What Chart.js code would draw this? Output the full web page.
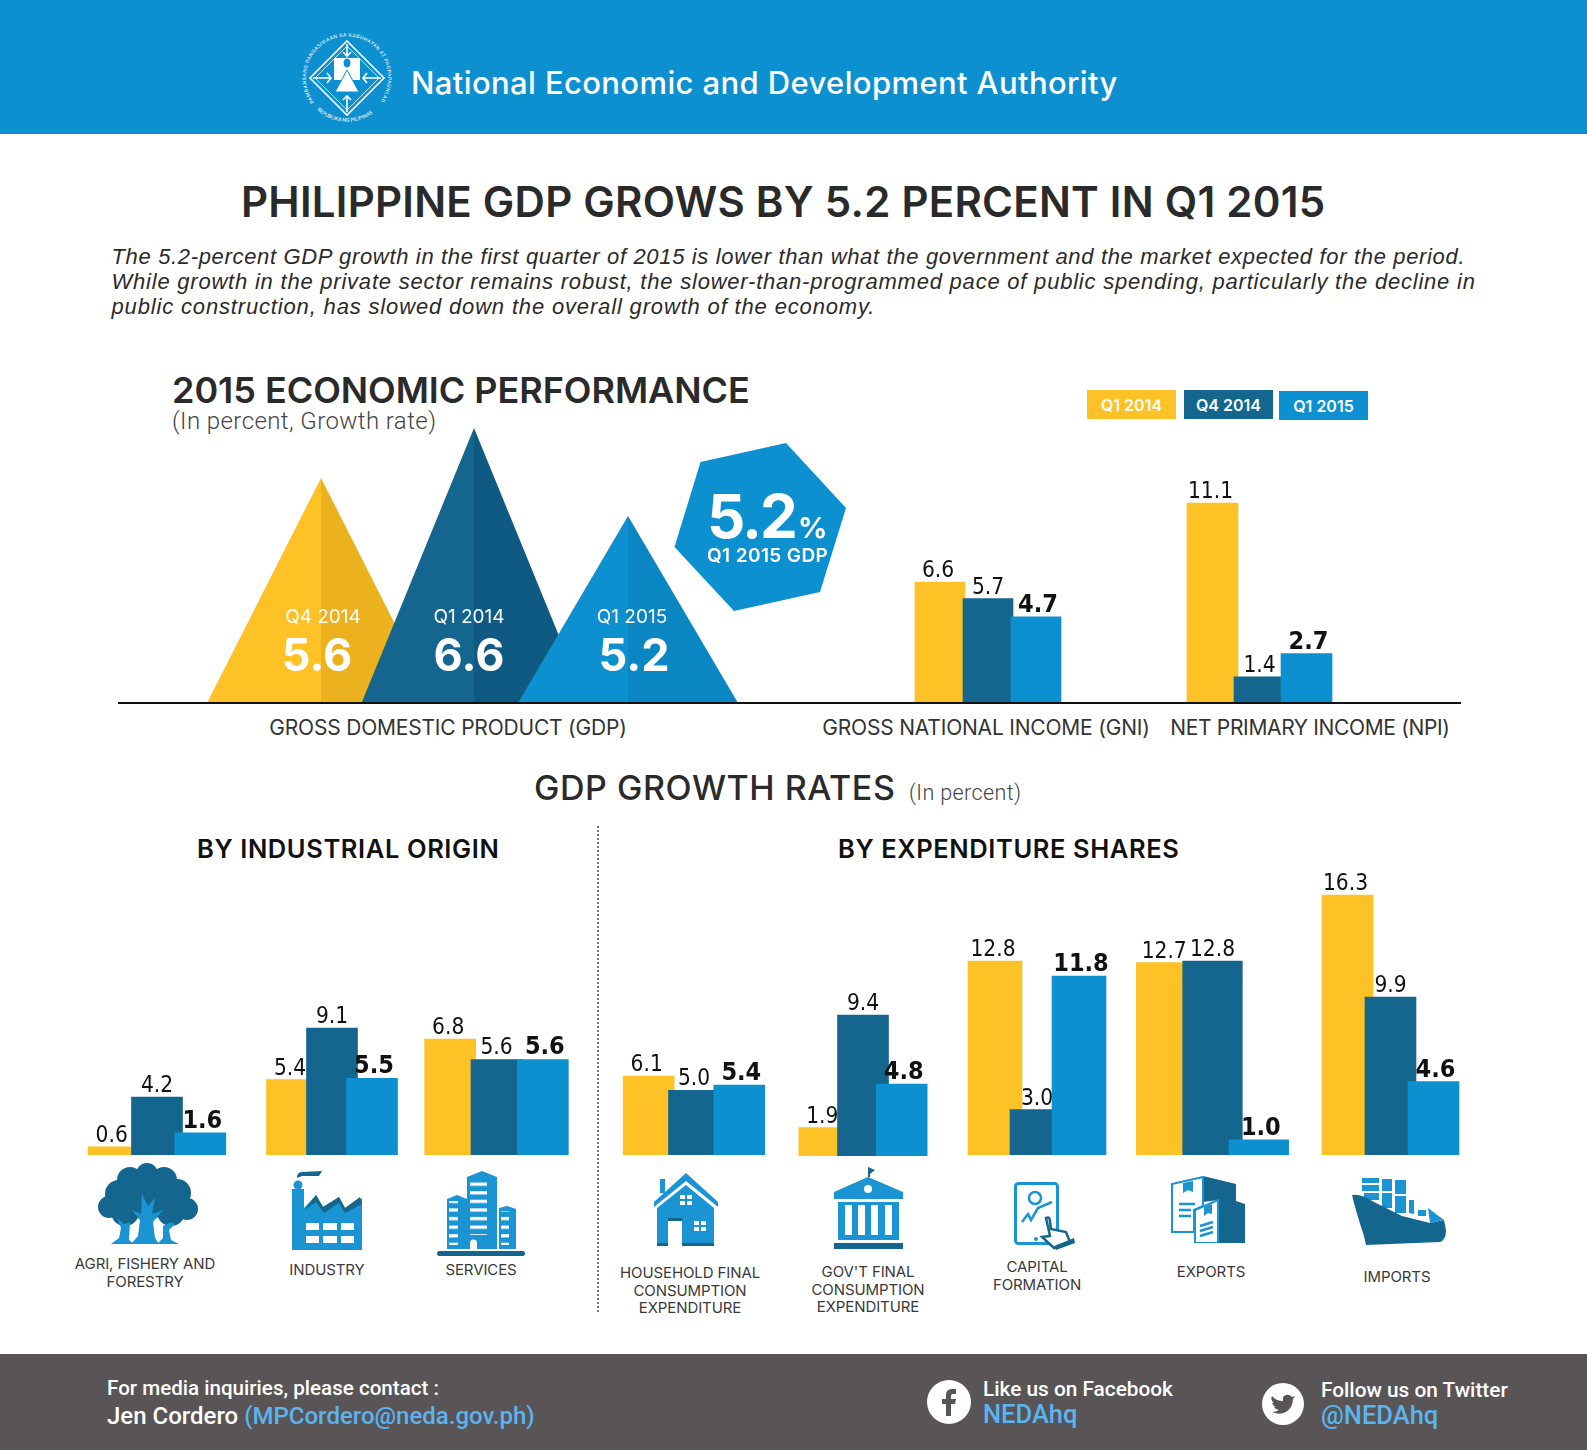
<!DOCTYPE html>
<html>
<head>
<meta charset="utf-8">
<title>Philippine GDP Q1 2015</title>
<script src="https://cdn.jsdelivr.net/npm/chart.js@4"></script>
<style>
  html, body { margin: 0; padding: 0; background: #fff; }
  #page { position: relative; width: 1587px; height: 1450px; overflow: hidden; font-family: Inter, sans-serif; color: #2b2a2b; }
  #page > div, #page > svg, #page > canvas { position: absolute; }
  .t { white-space: nowrap; transform: translateY(-50%); line-height: 1; }
  .c { transform: translate(-50%, -50%); text-align: center; }
  .cap { font-size: 15px; letter-spacing: -0.1px; color: #3a393a; margin-top: -1px; }
  .axis { font-size: 21px; color: #333; letter-spacing: -0.2px; }
  .key { color: #fff; font-size: 16px; font-weight: 600; display: flex; align-items: center; justify-content: center; width: 89px; height: 29px; }
  .foot { font-family: Roboto, sans-serif; color: #fff; font-weight: 500; }
  .sky { color: #5ab4f0; }
  .intro { font: italic 22px 'Liberation Sans'; }
</style>
</head>
<body>
<div id="page">
  <div style="left:0;top:0;width:1587px;height:134px;background:#0d90cf"></div>

  <svg style="left:300px;top:30px" width="94" height="96" viewBox="-47 -48 94 96">
    <defs>
      <path id="ringTop" d="M -33 24 A 41 41 0 1 1 33 24"/>
      <path id="ringBot" d="M -30 32 A 44 44 0 0 0 30 32"/>
    </defs>
    <text font-size="5" fill="#fff" font-family="Roboto" letter-spacing="0.5"><textPath href="#ringTop">PAMBANSANG PANGASIWAAN SA KABUHAYAN AT PAGPAPAUNLAD</textPath></text>
    <text font-size="5.2" fill="#fff" font-family="Roboto"><textPath href="#ringBot">REPUBLIKA NG PILIPINAS</textPath></text>
    <path d="M0 -37 L37 0 L0 37 L-37 0 Z" fill="none" stroke="#fff" stroke-width="1.6"/>
    <path d="M0 -32 L32 0 L0 32 L-32 0 Z" fill="none" stroke="#fff" stroke-width="0.8"/>
    <rect x="-13" y="-20" width="26" height="22" fill="#fff"/>
    <ellipse cx="0" cy="-15" rx="4" ry="5" fill="#0d90cf" stroke="#fff"/>
    <path d="M0 -8 L12 14 L-12 14 Z" fill="#fff" stroke="#0d90cf" stroke-width="1"/>
    <path d="M0 -34 V-22 M-4 -26 L0 -22 L4 -26 M0 34 V18 M-4 22 L0 18 L4 22 M-34 0 H-16 M-20 -5 L-16 0 L-20 5 M34 0 H16 M20 -5 L16 0 L20 5" stroke="#fff" stroke-width="1.6" fill="none"/>
  </svg>
  <div class="t" style="left:411px;top:82px;font-size:31px;font-weight:500;color:#fff;letter-spacing:0.38px">National Economic and Development Authority</div>

  <div class="t" style="left:241px;top:202px;font-size:42px;font-weight:600;letter-spacing:0.25px">PHILIPPINE GDP GROWS BY 5.2 PERCENT IN Q1 2015</div>
  <div class="t intro" style="left:111.5px;top:257px;letter-spacing:0.66px">The 5.2-percent GDP growth in the first quarter of 2015 is lower than what the government and the market expected for the period.</div>
  <div class="t intro" style="left:111.5px;top:282px;letter-spacing:0.78px">While growth in the private sector remains robust, the slower-than-programmed pace of public spending, particularly the decline in</div>
  <div class="t intro" style="left:111.5px;top:307px;letter-spacing:0.84px">public construction, has slowed down the overall growth of the economy.</div>

  <div class="t" style="left:172px;top:390px;font-size:36px;font-weight:600;letter-spacing:-0.04px">2015 ECONOMIC PERFORMANCE</div>
  <div class="t" style="left:172px;top:421px;font:300 24px Roboto;color:#444;letter-spacing:0.42px">(In percent, Growth rate)</div>

  <div class="key" style="left:1087px;top:390px;background:#fec126">Q1 2014</div>
  <div class="key" style="left:1184px;top:390px;background:#14668f">Q4 2014</div>
  <div class="key" style="left:1279px;top:391px;background:#0d90cf">Q1 2015</div>

  <div style="left:118px;top:702px;width:1343px;height:2px;background:#111;z-index:3"></div>

  <svg style="left:670px;top:440px;z-index:2" width="180" height="175">
    <polygon points="116,3 176,68 150,152 64,171 4.5,107 30.5,22" fill="#0d90cf"/>
  </svg>
  <div class="t" style="left:707px;top:516px;font-size:60px;font-weight:700;color:#fff;z-index:3;letter-spacing:-2px">5.2</div>
  <div class="t" style="left:798px;top:527px;font-size:29px;font-weight:700;color:#fff;z-index:3">%</div>
  <div class="t" style="left:707px;top:555px;font-size:19px;font-weight:600;color:#fff;z-index:3;letter-spacing:0.4px">Q1 2015 GDP</div>

  <div class="t axis c" style="left:448px;top:727px">GROSS DOMESTIC PRODUCT (GDP)</div>
  <div class="t axis c" style="left:986px;top:727px">GROSS NATIONAL INCOME (GNI)</div>
  <div class="t axis c" style="left:1310px;top:727px;letter-spacing:-0.35px">NET PRIMARY INCOME (NPI)</div>

  <div class="t" style="left:534px;top:788px;font-size:34px;font-weight:500;letter-spacing:0.55px">GDP GROWTH RATES</div>
  <div class="t" style="left:909px;top:792px;font:300 21.5px Roboto;color:#444;letter-spacing:0.4px">(In percent)</div>
  <div class="t" style="left:197px;top:849px;font-size:25.5px;font-weight:600;color:#111;letter-spacing:0.6px">BY INDUSTRIAL ORIGIN</div>
  <div class="t" style="left:838px;top:849px;font-size:25.5px;font-weight:600;color:#111;letter-spacing:0.6px">BY EXPENDITURE SHARES</div>
  <div style="left:597px;top:826px;height:486px;border-left:2px dotted #777"></div>

  <!-- tree -->
  <svg style="left:97px;top:1162px" width="102" height="82" viewBox="0 0 102 82">
    <g fill="#14668f">
      <circle cx="50" cy="12" r="11"/><circle cx="33" cy="18" r="13"/><circle cx="67" cy="18" r="13"/>
      <circle cx="22" cy="32" r="14"/><circle cx="80" cy="31" r="14"/><circle cx="12" cy="45" r="11"/>
      <circle cx="90" cy="47" r="11"/><circle cx="50" cy="34" r="24"/><circle cx="28" cy="50" r="14"/><circle cx="74" cy="50" r="14"/>
    </g>
    <g fill="#1a94d2">
      <path d="M45 32 L51 44 L58 36 L55 52 L66 48 L56 60 L58 76 L62 82 L34 82 L41 74 L43 58 L35 48 L44 52 Z"/>
      <path d="M20 56 L27 62 L33 60 L32 78 L37 82 L14 82 L22 76 L24 66 Z"/>
      <path d="M74 60 L78 62 L72 68 L74 78 L82 82 L60 82 L66 76 L66 64 Z"/>
    </g>
  </svg>
  <!-- factory -->
  <svg style="left:292px;top:1171px" width="70" height="79" viewBox="0 0 70 79">
    <path d="M5 7 Q5 1 10 1 L30 0 L27 5 L10 5 Z" fill="#14668f"/>
    <circle cx="6" cy="14" r="4.5" fill="#1a94d2"/>
    <path d="M0 18 H12 V37 L24 24 L31 36 L47 26 L53 37 L70 27 V79 H0 Z" fill="#1a94d2"/>
    <path d="M13 39 L24 24 L31 36 L47 26 L53 37 L68 26 L70 33 L53 42 L47 32 L32 42 L24 31 Z" fill="#14668f"/>
    <g fill="#fff"><rect x="14" y="52" width="13" height="7"/><rect x="31" y="52" width="14" height="7"/><rect x="49" y="52" width="13" height="7"/><rect x="14" y="65" width="13" height="7"/><rect x="31" y="65" width="14" height="7"/><rect x="49" y="65" width="13" height="7"/></g>
  </svg>
  <!-- buildings -->
  <svg style="left:437px;top:1171px" width="88" height="85" viewBox="0 0 88 85">
    <defs><pattern id="stripes" width="20" height="8.6" patternUnits="userSpaceOnUse"><rect y="3" width="20" height="3.2" fill="#fff"/></pattern></defs>
    <path d="M30 6 L45 0 L60 6 V78 H30 Z M10 28 L20 24 L30 28 V78 H10 Z M62 37 L70 35 L79 38 V78 H62 Z" fill="#1a94d2"/>
    <path d="M33 8 H50 V64 H33 Z M12 30 H21 V74 H12 Z M64 40 H72 V74 H64 Z" fill="url(#stripes)"/>
    <path d="M33 79 V72 A3.500 3.500 0 0 1 40 72 V79 Z" fill="#fff"/>
    <rect x="0" y="80" width="88" height="5" rx="2.500" fill="#14668f"/>
  </svg>
  <!-- house -->
  <svg style="left:654px;top:1173px" width="64" height="73" viewBox="0 0 64 73">
    <path d="M6 6 H11 V20 H6 Z" fill="#1a94d2"/>
    <path d="M32 0 L64 29 V34 L32 8 L0 34 V29 Z" fill="#1a94d2"/>
    <path d="M32 12 L60 35 V73 H28 V45 H14 V73 H3 V35 Z" fill="#1a94d2"/>
    <path d="M28 70 H60 V73 H28 Z M3 70 H14 V73 H3 Z M14 45 H28 V48 H14 Z" fill="#14668f"/>
    <g fill="#fff"><rect x="26" y="22" width="5" height="4"/><rect x="33" y="22" width="5" height="4"/><rect x="26" y="28" width="5" height="4"/><rect x="33" y="28" width="5" height="4"/><rect x="40" y="48" width="5" height="4"/><rect x="47" y="48" width="5" height="4"/><rect x="40" y="54" width="5" height="4"/><rect x="47" y="54" width="5" height="4"/></g>
  </svg>
  <!-- government building -->
  <svg style="left:834px;top:1167px" width="69" height="82" viewBox="0 0 69 82">
    <path d="M34 10 V0 L41 3 L36 7 V10 Z" fill="#14668f"/>
    <path d="M34 10 L69 25 V32 H0 V25 Z" fill="#1a94d2"/>
    <circle cx="34" cy="22" r="4" fill="#fff"/>
    <rect x="4" y="35" width="61" height="38" fill="#1a94d2"/>
    <g fill="#fff"><rect x="11" y="38" width="7" height="30"/><rect x="24" y="38" width="7" height="30"/><rect x="37" y="38" width="7" height="30"/><rect x="51" y="38" width="7" height="30"/></g>
    <rect x="0" y="76" width="69" height="6" fill="#14668f"/>
  </svg>
  <!-- tablet -->
  <svg style="left:1014px;top:1182px" width="61" height="68" viewBox="0 0 61 68">
    <rect x="1.500" y="1.500" width="42" height="60" rx="3" fill="#fff" stroke="#1a94d2" stroke-width="3"/>
    <circle cx="21" cy="16" r="6" fill="none" stroke="#1a94d2" stroke-width="2.500"/>
    <path d="M8 40 L14 32 L17 38 L24 26 L38 20" fill="none" stroke="#1a94d2" stroke-width="2.500"/>
    <circle cx="22" cy="57" r="2" fill="#1a94d2"/>
    <path d="M32 36 Q36 34 36 40 L37 47 L52 50 L56 60 L40 66 L28 55 L36 54 Z" fill="#fff" stroke="#14668f" stroke-width="2.500"/>
    <path d="M40 64 L60 56 L61 61 L42 68 Z" fill="#14668f"/>
  </svg>
  <!-- boxes -->
  <svg style="left:1171px;top:1176px" width="74" height="67" viewBox="0 0 74 67">
    <path d="M32 0 L65 8 V25 L74 28 V67 H47 V24 L32 26 Z" fill="#14668f"/>
    <path d="M1 8 L32 1 V30 L23 34 V56 H1 Z" fill="#fff" stroke="#1a94d2" stroke-width="2"/>
    <path d="M24 34 L47 24 V67 H24 Z" fill="#fff" stroke="#1a94d2" stroke-width="2"/>
    <path d="M12 7 V17 L17 14 L22 16 V5 Z M33 31 V40 L37 37 L41 38 V28 Z" fill="#1a94d2"/>
    <path d="M8 28 H24 M8 34 H20 M8 40 H20 M29 50 L42 46 M29 55 L42 51 M29 60 L42 56" stroke="#1a94d2" stroke-width="2.500"/>
  </svg>
  <!-- ship -->
  <svg style="left:1352px;top:1178px" width="94" height="67" viewBox="0 0 94 67">
    <g fill="#1a94d2"><path d="M10 0 H27 V5 H10 Z M10 7 H27 V13 H10 Z M30 1 H40 V13 H30 Z M43 2 H54 V16 H43 Z M12 15 H27 V22 H12 Z M30 15 H40 V30 H30 Z M43 18 H54 V35 H43 Z"/><path d="M57 22 H62 V36 L57 35 Z M66 32 H74 V38 H66 Z"/></g>
    <path d="M0 17 Q8 15 22 24 L50 38 L78 45 L92 42 L94 52 Q94 62 88 64 L14 67 L12 58 Q4 34 0 17 Z" fill="#14668f"/>
    <path d="M76 30 L92 42 L78 45 Z" fill="#1a94d2"/>
  </svg>

  <div class="t cap c" style="left:145px;top:1264px">AGRI, FISHERY AND</div>
  <div class="t cap c" style="left:145px;top:1282px">FORESTRY</div>
  <div class="t cap c" style="left:327px;top:1270px">INDUSTRY</div>
  <div class="t cap c" style="left:481px;top:1270px">SERVICES</div>
  <div class="t cap c" style="left:690px;top:1273px">HOUSEHOLD FINAL</div>
  <div class="t cap c" style="left:690px;top:1291px">CONSUMPTION</div>
  <div class="t cap c" style="left:690px;top:1308px">EXPENDITURE</div>
  <div class="t cap c" style="left:868px;top:1272px">GOV'T FINAL</div>
  <div class="t cap c" style="left:868px;top:1290px">CONSUMPTION</div>
  <div class="t cap c" style="left:868px;top:1307px">EXPENDITURE</div>
  <div class="t cap c" style="left:1037px;top:1267px">CAPITAL</div>
  <div class="t cap c" style="left:1037px;top:1285px">FORMATION</div>
  <div class="t cap c" style="left:1211px;top:1272px">EXPORTS</div>
  <div class="t cap c" style="left:1397px;top:1277px">IMPORTS</div>

  <div style="left:0;top:1354px;width:1587px;height:96px;background:#595556"></div>
  <div class="t foot" style="left:107px;top:1388px;font-size:20.6px">For media inquiries, please contact :</div>
  <div class="t foot" style="left:107px;top:1416px;font-size:24px">Jen Cordero <span class="sky">(MPCordero@neda.gov.ph)</span></div>
  <svg style="left:927px;top:1380px" width="44" height="44" viewBox="0 0 44 44">
    <circle cx="22" cy="22" r="22" fill="#fff"/>
    <path d="M19 36 V24 H15 V19 H19 V15 Q19 9 25 9 H29 V14 H26 Q24 14 24 16 V19 H29 L28 24 H24 V36 Z" fill="#595556"/>
  </svg>
  <div class="t foot" style="left:983px;top:1389px;font-size:20.8px">Like us on Facebook</div>
  <div class="t foot sky" style="left:983px;top:1415px;font-size:25.5px">NEDAhq</div>
  <svg style="left:1262px;top:1383px" width="42" height="42" viewBox="0 0 42 42">
    <circle cx="21" cy="21" r="21" fill="#fff"/>
    <path d="M33 13 L30 14 Q27 11 24 12 Q20 13 21 18 Q14 18 10 13 Q8 17 12 20 L10 20 Q11 23 14 24 L12 24 Q14 27 17 27 Q14 29 10 29 Q22 34 29 24 Q31 20 31 16 Z" fill="#595556"/>
  </svg>
  <div class="t foot" style="left:1321px;top:1390px;font-size:20.8px">Follow us on Twitter</div>
  <div class="t foot sky" style="left:1321px;top:1416px;font-size:25.5px">@NEDAhq</div>
</div>

<script>
// values, as printed in the picture
const periods = ['Q1 2014', 'Q4 2014', 'Q1 2015'];
const gdpPeriods = ['Q4 2014', 'Q1 2014', 'Q1 2015'];
const gdp = [5.6, 6.6, 5.2];
const gni = [6.6, 5.7, 4.7];
const npi = [11.1, 1.4, 2.7];
const agri = [0.6, 4.2, 1.6];
const industry = [5.4, 9.1, 5.5];
const services = [6.8, 5.6, 5.6];
const household = [6.1, 5.0, 5.4];
const govt = [1.9, 9.4, 4.8];
const capital = [12.8, 3.0, 11.8];
const exportsGrowth = [12.7, 12.8, 1.0];
const imports = [16.3, 9.9, 4.6];

const yellow = '#fec126', navy = '#14668f', blue = '#0d90cf';
const barColors = [yellow, navy, blue];
const page = document.getElementById('page');

// bar labels, last one in the group is the bold one
const valueLabels = {
  id: 'valueLabels',
  afterDatasetsDraw(chart) {
    const { ctx } = chart;
    const values = chart.data.datasets[0].data;
    const nudge = [-2, 0, 2];
    ctx.save();
    ctx.fillStyle = '#111';
    ctx.textAlign = 'center';
    ctx.textBaseline = 'alphabetic';
    chart.getDatasetMeta(0).data.forEach((bar, i) => {
      ctx.font = i === 2 ? 'bold 25px "DejaVu Sans Condensed", "DejaVu Sans"' : '22.5px "DejaVu Sans Condensed", "DejaVu Sans"';
      ctx.fillText(values[i].toFixed(1), bar.x + nudge[i], bar.y - 5);
    });
    ctx.restore();
  }
};

// turns a GDP bar into a two-tone triangle with its label inside
const triangles = {
  id: 'triangles',
  afterDatasetsDraw(chart) {
    const { ctx } = chart;
    const ds = chart.data.datasets[0];
    const bar = chart.getDatasetMeta(0).data[0];
    const half = bar.width / 2;
    ctx.save();
    ctx.fillStyle = ds.light;
    ctx.beginPath(); ctx.moveTo(bar.x - half, bar.base); ctx.lineTo(bar.x, bar.y); ctx.lineTo(bar.x, bar.base); ctx.fill();
    ctx.fillStyle = ds.dark;
    ctx.beginPath(); ctx.moveTo(bar.x, bar.base); ctx.lineTo(bar.x, bar.y); ctx.lineTo(bar.x + half, bar.base); ctx.fill();
    ctx.fillStyle = '#fff';
    ctx.textAlign = 'center';
    ctx.textBaseline = 'middle';
    ctx.font = '400 19px Inter';
    ctx.fillText(chart.data.labels[0], bar.x + ds.textShift[0], bar.base - 86);
    ctx.font = '700 45px Inter';
    ctx.fillText(ds.data[0].toFixed(1), bar.x + ds.textShift[1], bar.base - 46);
    ctx.restore();
  }
};

// one small chart per group; canvas is placed so the axis base sits on the baseline
function barGroup(labels, values, box, plugin, datasetExtra) {
  const pad = 120, headroom = 44;
  const plotW = box.step * labels.length;
  const plotH = Math.max(...values) * box.scale;
  const canvas = document.createElement('canvas');
  canvas.width = plotW + pad * 2;
  canvas.height = plotH + headroom;
  canvas.style.left = (box.first - box.step / 2 - pad) + 'px';
  canvas.style.top = (box.base - plotH - headroom) + 'px';
  page.appendChild(canvas);
  return new Chart(canvas, {
    type: 'bar',
    data: {
      labels: labels,
      datasets: [Object.assign({
        data: values,
        backgroundColor: barColors,
        borderWidth: 0,
        barThickness: box.width,
        clip: false
      }, datasetExtra)]
    },
    options: {
      responsive: false,
      animation: false,
      events: [],
      layout: { padding: { left: pad, right: pad, top: headroom, bottom: 0 } },
      plugins: { legend: { display: false }, tooltip: { enabled: false } },
      scales: {
        x: { display: false, offset: true },
        y: { display: false, min: 0, max: Math.max(...values) }
      }
    },
    plugins: [plugin]
  });
}

// the picture draws each group to its own height scale, so scale is px per point per group
barGroup([gdpPeriods[0]], [gdp[0]], { first: 321, step: 100, width: 228, base: 703, scale: 40.2 }, triangles,
  { backgroundColor: 'transparent', light: yellow, dark: '#ecb11e', textShift: [2, -4] });
barGroup([gdpPeriods[1]], [gdp[1]], { first: 473.7, step: 100, width: 225, base: 703, scale: 41.7 }, triangles,
  { backgroundColor: 'transparent', light: navy, dark: '#0f5a83', textShift: [-5, -5] });
barGroup([gdpPeriods[2]], [gdp[2]], { first: 628, step: 100, width: 220, base: 703, scale: 36 }, triangles,
  { backgroundColor: 'transparent', light: blue, dark: '#0a86c2', textShift: [4, 6] });

barGroup(periods, gni, { first: 939.5, step: 48, width: 50, base: 703, scale: 18.4 }, valueLabels);
barGroup(periods, npi, { first: 1212.5, step: 47, width: 51, base: 703, scale: 18 }, valueLabels);

barGroup(periods, agri, { first: 114, step: 43.5, width: 51, base: 1155.5, scale: 14 }, valueLabels);
barGroup(periods, industry, { first: 291.5, step: 40, width: 51, base: 1155.5, scale: 14 }, valueLabels);
barGroup(periods, services, { first: 450.5, step: 46.5, width: 51, base: 1155.5, scale: 17.2 }, valueLabels);

barGroup(periods, household, { first: 649, step: 45.5, width: 51, base: 1155.5, scale: 13 }, valueLabels);
barGroup(periods, govt, { first: 824, step: 38.7, width: 51, base: 1155.5, scale: 15 }, valueLabels);
barGroup(periods, capital, { first: 995, step: 42, width: 54, base: 1155.5, scale: 15.2 }, valueLabels);
barGroup(periods, exportsGrowth, { first: 1166, step: 46.5, width: 59.6, base: 1155.5, scale: 15.2 }, valueLabels);
barGroup(periods, imports, { first: 1347, step: 43, width: 51, base: 1155.5, scale: 16 }, valueLabels);
</script>
</body>
</html>
